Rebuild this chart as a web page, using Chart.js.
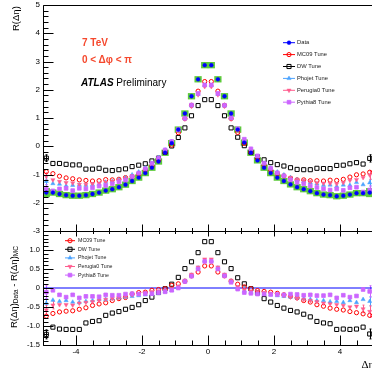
<!DOCTYPE html>
<html><head><meta charset="utf-8">
<script src="https://cdn.jsdelivr.net/npm/chart.js@4.4.1/dist/chart.umd.min.js"></script>
<style>
html,body{margin:0;padding:0;width:372px;height:376px;overflow:hidden;background:#fff;}
#bot{position:absolute;left:0;top:226px;}
#top{position:absolute;left:0;top:0;}
.ann{position:absolute;font-family:'Liberation Sans',Arial,sans-serif;white-space:nowrap;line-height:12px;font-size:10px;}
.red{color:#f5482d;font-weight:bold;}
</style></head><body>
<canvas id="bot" width="380" height="150"></canvas>
<canvas id="top" width="380" height="236"></canvas>
<div class="ann red" style="left:82px;top:37px;">7 TeV</div>
<div class="ann red" style="left:82px;top:54px;">0 &lt; Δφ &lt; π</div>
<div class="ann" style="left:81px;top:77px;color:#000;"><b><i>ATLAS</i></b> Preliminary</div>
<script>
// ---------- data ----------
const etaBins = [-4.9,-4.7,-4.5,-4.3,-4.1,-3.9,-3.7,-3.5,-3.3,-3.1,-2.9,-2.7,-2.5,-2.3,-2.1,-1.9,-1.7,-1.5,-1.3,-1.1,-0.9,-0.7,-0.5,-0.3,-0.1,
                 0.1,0.3,0.5,0.7,0.9,1.1,1.3,1.5,1.7,1.9,2.1,2.3,2.5,2.7,2.9,3.1,3.3,3.5,3.7,3.9,4.1,4.3,4.5,4.7,4.9];

const dataR = [-1.64,-1.64,-1.69,-1.73,-1.75,-1.75,-1.73,-1.69,-1.64,-1.57,-1.52,-1.45,-1.36,-1.23,-1.11,-0.95,-0.76,-0.54,-0.23,0.11,0.59,1.16,1.77,2.37,2.87,
               2.87,2.37,1.77,1.16,0.59,0.13,-0.23,-0.50,-0.76,-0.95,-1.11,-1.23,-1.35,-1.45,-1.52,-1.59,-1.66,-1.71,-1.73,-1.77,-1.75,-1.71,-1.66,-1.66,-1.64];
const dataSyst = [0.15,0.10,0.10,0.10,0.10,0.10,0.10,0.10,0.10,0.10,0.10,0.10,0.10,0.10,0.10,0.10,0.10,0.10,0.10,0.10,0.10,0.10,0.10,0.10,0.10,
                  0.10,0.10,0.10,0.10,0.10,0.10,0.10,0.10,0.10,0.10,0.10,0.10,0.10,0.10,0.10,0.10,0.10,0.10,0.10,0.10,0.10,0.10,0.10,0.10,0.15];
const mc09R = [-0.90,-0.97,-1.06,-1.12,-1.15,-1.19,-1.21,-1.23,-1.22,-1.18,-1.19,-1.17,-1.11,-1.07,-0.99,-0.84,-0.70,-0.50,-0.21,0.04,0.48,0.98,1.45,1.95,2.29,
               2.29,1.95,1.45,0.98,0.49,0.10,-0.21,-0.43,-0.67,-0.84,-0.97,-1.05,-1.13,-1.19,-1.19,-1.22,-1.22,-1.23,-1.20,-1.21,-1.17,-1.09,-1.01,-0.98,-0.92];
const dwR = [-0.42,-0.61,-0.61,-0.64,-0.66,-0.66,-0.81,-0.81,-0.78,-0.85,-0.86,-0.83,-0.80,-0.72,-0.67,-0.62,-0.52,-0.42,-0.21,0.01,0.31,0.65,1.08,1.44,1.65,
             1.65,1.44,1.08,0.65,0.32,0.02,-0.21,-0.37,-0.48,-0.58,-0.65,-0.70,-0.76,-0.82,-0.83,-0.83,-0.78,-0.79,-0.79,-0.68,-0.67,-0.62,-0.58,-0.63,-0.43];
const phojetR = [-1.24,-1.32,-1.34,-1.40,-1.38,-1.37,-1.38,-1.36,-1.34,-1.27,-1.24,-1.19,-1.12,-1.01,-0.91,-0.77,-0.60,-0.40,-0.13,0.17,0.57,0.98,1.43,1.84,2.15,
                 2.15,1.84,1.43,0.98,0.59,0.21,-0.11,-0.36,-0.60,-0.77,-0.91,-1.01,-1.11,-1.19,-1.24,-1.29,-1.33,-1.38,-1.37,-1.42,-1.37,-1.38,-1.28,-1.36,-1.29];
const perugiaR = [-1.06,-1.19,-1.25,-1.29,-1.30,-1.35,-1.35,-1.33,-1.31,-1.27,-1.24,-1.20,-1.14,-1.05,-0.96,-0.83,-0.66,-0.46,-0.17,0.13,0.54,0.96,1.41,1.82,2.11,
                  2.11,1.82,1.41,0.96,0.56,0.18,-0.15,-0.40,-0.64,-0.81,-0.94,-1.03,-1.11,-1.18,-1.22,-1.26,-1.30,-1.31,-1.31,-1.33,-1.29,-1.21,-1.18,-1.11,-1.02];
const pythia8R = [-1.53,-1.58,-1.51,-1.49,-1.57,-1.49,-1.51,-1.47,-1.41,-1.39,-1.33,-1.26,-1.20,-1.08,-0.95,-0.80,-0.61,-0.42,-0.13,0.17,0.59,0.99,1.46,1.87,2.17,
                  2.17,1.87,1.45,1.01,0.62,0.25,-0.09,-0.34,-0.60,-0.78,-0.94,-1.05,-1.19,-1.28,-1.33,-1.41,-1.46,-1.51,-1.55,-1.51,-1.56,-1.47,-1.45,-1.62,-1.55];

// R(data) - R(MC)
const mc09D = [-0.74,-0.67,-0.63,-0.61,-0.60,-0.56,-0.52,-0.46,-0.42,-0.39,-0.33,-0.28,-0.25,-0.16,-0.12,-0.11,-0.06,-0.04,-0.02,0.07,0.11,0.18,0.32,0.42,0.58,
               0.58,0.42,0.32,0.18,0.10,0.03,-0.02,-0.07,-0.09,-0.11,-0.14,-0.18,-0.22,-0.26,-0.33,-0.37,-0.44,-0.48,-0.53,-0.56,-0.58,-0.62,-0.65,-0.68,-0.72];
const dwD = [-1.22,-1.03,-1.08,-1.09,-1.09,-1.09,-0.92,-0.88,-0.86,-0.72,-0.66,-0.62,-0.56,-0.51,-0.44,-0.33,-0.24,-0.12,-0.02,0.10,0.28,0.51,0.69,0.93,1.22,
             1.22,0.93,0.69,0.51,0.27,0.11,-0.02,-0.13,-0.28,-0.37,-0.46,-0.53,-0.59,-0.63,-0.69,-0.76,-0.88,-0.92,-0.94,-1.09,-1.08,-1.09,-1.08,-1.03,-1.21];
const phojetD = [-0.40,-0.32,-0.35,-0.33,-0.37,-0.38,-0.35,-0.33,-0.30,-0.30,-0.28,-0.26,-0.24,-0.22,-0.20,-0.18,-0.16,-0.14,-0.10,-0.06,0.02,0.18,0.34,0.53,0.72,
                 0.72,0.53,0.34,0.18,0.00,-0.08,-0.12,-0.14,-0.16,-0.18,-0.20,-0.22,-0.24,-0.26,-0.28,-0.30,-0.33,-0.33,-0.36,-0.35,-0.38,-0.33,-0.38,-0.30,-0.35];
const perugiaD = [-0.58,-0.45,-0.44,-0.44,-0.45,-0.40,-0.38,-0.36,-0.33,-0.30,-0.28,-0.25,-0.22,-0.18,-0.15,-0.12,-0.10,-0.08,-0.06,-0.02,0.05,0.20,0.36,0.55,0.76,
                  0.76,0.55,0.36,0.20,0.03,-0.05,-0.08,-0.10,-0.12,-0.14,-0.17,-0.20,-0.24,-0.27,-0.30,-0.33,-0.36,-0.40,-0.42,-0.44,-0.46,-0.50,-0.48,-0.55,-0.62];
const pythia8D = [-0.11,-0.06,-0.18,-0.24,-0.18,-0.26,-0.22,-0.22,-0.23,-0.18,-0.19,-0.19,-0.16,-0.15,-0.16,-0.15,-0.15,-0.12,-0.10,-0.06,0.00,0.17,0.31,0.50,0.70,
                  0.70,0.50,0.32,0.15,-0.03,-0.12,-0.14,-0.16,-0.16,-0.17,-0.17,-0.18,-0.16,-0.17,-0.19,-0.18,-0.20,-0.20,-0.18,-0.26,-0.19,-0.24,-0.21,-0.04,-0.09];

// statistical error (half length) of the MC tunes
const mc09Err = [0.05,0.03,0.02,0.02,0.02,0.02,0.02,0.02,0.02,0.02,0.02,0.02,0.02,0.02,0.02,0.02,0.02,0.02,0.02,0.02,0.02,0.02,0.02,0.03,0.03,
                 0.03,0.03,0.02,0.02,0.02,0.02,0.02,0.02,0.02,0.02,0.02,0.02,0.02,0.02,0.02,0.02,0.02,0.02,0.02,0.02,0.02,0.02,0.02,0.03,0.05];
const dwErr = [0.12,0.05,0.03,0.02,0.02,0.02,0.02,0.02,0.02,0.02,0.02,0.02,0.02,0.02,0.02,0.02,0.02,0.02,0.02,0.02,0.02,0.02,0.02,0.03,0.03,
               0.03,0.03,0.02,0.02,0.02,0.02,0.02,0.02,0.02,0.02,0.02,0.02,0.02,0.02,0.02,0.02,0.02,0.02,0.02,0.02,0.02,0.02,0.03,0.05,0.13];
const phojetErr = [0.12,0.08,0.05,0.04,0.04,0.04,0.03,0.03,0.03,0.03,0.03,0.03,0.03,0.03,0.03,0.03,0.03,0.03,0.03,0.03,0.03,0.03,0.04,0.04,0.05,
                   0.05,0.04,0.04,0.03,0.03,0.03,0.03,0.03,0.03,0.03,0.03,0.03,0.03,0.03,0.03,0.03,0.03,0.03,0.04,0.04,0.04,0.04,0.05,0.08,0.12];
const perugiaErr = [0.12,0.10,0.06,0.04,0.04,0.04,0.03,0.03,0.03,0.03,0.03,0.03,0.03,0.03,0.03,0.03,0.03,0.03,0.03,0.03,0.03,0.04,0.04,0.05,0.06,
                    0.06,0.05,0.04,0.04,0.03,0.03,0.03,0.03,0.03,0.03,0.03,0.03,0.03,0.03,0.03,0.03,0.03,0.03,0.04,0.04,0.04,0.05,0.06,0.10,0.15];
const pythia8Err = [0.17,0.08,0.05,0.04,0.04,0.04,0.03,0.03,0.03,0.03,0.03,0.03,0.03,0.03,0.03,0.03,0.03,0.03,0.03,0.03,0.03,0.04,0.04,0.05,0.05,
                    0.05,0.05,0.04,0.04,0.03,0.03,0.03,0.03,0.03,0.03,0.03,0.03,0.03,0.03,0.03,0.03,0.03,0.03,0.04,0.04,0.04,0.04,0.05,0.07,0.15];

const xTickLabels = [-4,-2,0,2,4];
const yTopTickLabels = [-3,-2,-1,0,1,2,3,4,5];
const yBotTickLabels = [-1.5,-1,-0.5,0,0.5,1];

// ---------- helpers ----------
const FONT = "'Liberation Sans', Arial, sans-serif";
const pts = arr => etaBins.map((x, i) => ({x, y: arr[i]}));
function ticksList(min, max, majorStep, minorStep, majLen, minLen) {
  const out = [];
  const n = Math.round((max - min) / minorStep);
  for (let k = 0; k <= n; k++) {
    const v = +(min + k * minorStep).toFixed(6);
    const isMaj = Math.abs(v / majorStep - Math.round(v / majorStep)) < 1e-6;
    out.push({v, len: isMaj ? majLen : minLen});
  }
  return out;
}

const frameTicks = {
  id: 'frameTicks',
  afterDatasetsDraw(chart, args, o) {
    const {ctx, chartArea: a, scales} = chart;
    ctx.save();
    ctx.strokeStyle = '#000';
    ctx.lineWidth = 1;
    const L = Math.round(a.left) + 0.5, T = Math.round(a.top) + 0.5, B = Math.round(a.bottom) + 0.5, R = Math.round(a.right) + 0.5;
    ctx.beginPath();
    ctx.moveTo(R, T); ctx.lineTo(L, T); ctx.lineTo(L, B); ctx.lineTo(R, B);
    ctx.stroke();
    ctx.beginPath();
    o.y.forEach(t => { const p = Math.round(scales.y.getPixelForValue(t.v)) + 0.5; ctx.moveTo(L, p); ctx.lineTo(L + t.len, p); });
    (o.xb || []).forEach(t => { const p = Math.round(scales.x.getPixelForValue(t.v)) + 0.5; ctx.moveTo(p, B); ctx.lineTo(p, B - t.len); });
    (o.xt || []).forEach(t => { const p = Math.round(scales.x.getPixelForValue(t.v)) + 0.5; ctx.moveTo(p, T); ctx.lineTo(p, T + t.len); });
    ctx.stroke();
    ctx.restore();
  }
};

// vertical error bars, drawn beneath the markers through the chart's own scales;
// bars shorter than the marker itself stay hidden, as in the original
const errorBars = {
  id: 'errorBars',
  beforeDatasetsDraw(chart) {
    const {ctx, chartArea: a, scales} = chart;
    ctx.save();
    ctx.beginPath(); ctx.rect(a.left, a.top, a.right - a.left, a.bottom - a.top); ctx.clip();
    chart.data.datasets.forEach(ds => {
      if (!ds.errors) return;
      ctx.strokeStyle = ds.borderColor; ctx.lineWidth = 1;
      ctx.beginPath();
      ds.data.forEach((p, i) => {
        const e = ds.errors[i];
        const x = Math.round(scales.x.getPixelForValue(p.x)) + 0.5;
        const y1 = scales.y.getPixelForValue(p.y + e), y2 = scales.y.getPixelForValue(p.y - e);
        if ((y2 - y1) / 2 <= 3.2) return;
        ctx.moveTo(x, y1); ctx.lineTo(x, y2);
        ctx.moveTo(x - 1, y1); ctx.lineTo(x + 1, y1);
        ctx.moveTo(x - 1, y2); ctx.lineTo(x + 1, y2);
      });
      ctx.stroke();
    });
    ctx.restore();
  }
};

const legendBox = {
  id: 'legendBox',
  afterDraw(chart, args, o) {
    const ctx = chart.ctx;
    o.items.forEach((idx, k) => {
      const ds = chart.data.datasets[idx];
      const y = o.y0 + k * o.dy;
      ctx.save();
      ctx.strokeStyle = ds.borderColor; ctx.lineWidth = 1;
      ctx.beginPath(); ctx.moveTo(o.x - o.half, y); ctx.lineTo(o.x + o.half, y); ctx.stroke();
      ctx.fillStyle = ds.backgroundColor; ctx.strokeStyle = ds.borderColor; ctx.lineWidth = ds.borderWidth;
      Chart.helpers.drawPoint(ctx, {pointStyle: ds.pointStyle, rotation: ds.rotation || 0, radius: ds.pointRadius, borderWidth: ds.borderWidth}, o.x, y);
      ctx.fillStyle = '#222'; ctx.font = o.font; ctx.textBaseline = 'middle'; ctx.textAlign = 'left';
      ctx.fillText(ds.label, o.tx, y);
      ctx.restore();
    });
  }
};

const titles = {
  id: 'titles',
  afterDraw(chart, args, o) {
    const ctx = chart.ctx;
    (o.items || []).forEach(it => {
      ctx.save();
      ctx.translate(it.x, it.y);
      if (it.rot) ctx.rotate(it.rot);
      ctx.fillStyle = '#000';
      ctx.textBaseline = 'middle';
      ctx.textAlign = 'left';
      let cx = 0;
      it.parts.forEach(p => {
        ctx.font = p.font;
        ctx.fillText(p.t, cx, p.dy || 0);
        cx += ctx.measureText(p.t).width;
      });
      ctx.restore();
    });
  }
};

function ds(label, arr, style, errs) {
  return Object.assign({label, data: pts(arr), showLine: false, errors: errs}, style);
}
const styles = {
  data:    {pointStyle: 'circle', pointRadius: 1.9, backgroundColor: '#0000ff', borderColor: '#0000ff', borderWidth: 0.5},
  mc09:    {pointStyle: 'circle', pointRadius: 2.1, backgroundColor: 'rgba(0,0,0,0)', borderColor: '#ff0000', borderWidth: 1},
  dw:      {pointStyle: 'rect', pointRadius: 2.9, backgroundColor: 'rgba(0,0,0,0)', borderColor: '#000000', borderWidth: 1},
  phojet:  {pointStyle: 'triangle', pointRadius: 2.4, backgroundColor: '#4aa3ff', borderColor: '#4aa3ff', borderWidth: 0.5},
  perugia: {pointStyle: 'triangle', rotation: 180, pointRadius: 2.4, backgroundColor: '#ff5c8e', borderColor: '#ff5c8e', borderWidth: 0.5},
  pythia8: {pointStyle: 'rect', pointRadius: 2.6, backgroundColor: '#cc66ff', borderColor: '#cc66ff', borderWidth: 0.8}
};
const common = {
  responsive: false, animation: false, events: [],
  plugins: {legend: {display: false}, tooltip: {enabled: false}}
};

// ---------- top panel ----------
new Chart(document.getElementById('top'), {
  type: 'scatter',
  data: {datasets: [
    ds('Data', dataR, Object.assign({order: 0}, styles.data)),
    ds('MC09 Tune', mc09R, Object.assign({order: 4}, styles.mc09), mc09Err),
    ds('DW Tune', dwR, Object.assign({order: 5}, styles.dw), dwErr),
    ds('Phojet Tune', phojetR, Object.assign({order: 3}, styles.phojet), phojetErr),
    ds('Perugia0 Tune', perugiaR, Object.assign({order: 2}, styles.perugia), perugiaErr),
    ds('Pythia8 Tune', pythia8R, Object.assign({order: 1}, styles.pythia8), pythia8Err),
    {type: 'bar', label: 'syst', order: 10, backgroundColor: '#5dcb3a', borderWidth: 0,
     barPercentage: 1, categoryPercentage: 1,
     data: etaBins.map((x, i) => ({x, y: [dataR[i] - dataSyst[i], dataR[i] + dataSyst[i]]}))}
  ]},
  options: Object.assign({}, common, {
    layout: {padding: {left: 0, top: 5, right: 7, bottom: 5}},
    scales: {
      x: {type: 'linear', min: -5, max: 5, offset: false, display: false, grid: {offset: false}},
      y: {type: 'linear', min: -3, max: 5, position: 'left',
          grid: {display: false, drawTicks: false}, border: {display: false},
          afterBuildTicks: s => { s.ticks = yTopTickLabels.map(v => ({value: v})); },
          ticks: {padding: 3, color: '#000', font: {family: FONT, size: 8}},
          afterFit: s => { s.width = 43; s.paddingTop = 0; s.paddingBottom = 0; }}
    },
    plugins: Object.assign({}, common.plugins, {
      frameTicks: {y: ticksList(-3, 5, 1, 0.2, 10, 5), xb: ticksList(-5, 5, 2, 0.5, 7, 3.5)},
      legendBox: {items: [0, 1, 2, 3, 4, 5], x: 289, half: 6, tx: 297, y0: 42.7, dy: 11.9, font: '5.8px ' + FONT},
      titles: {items: [{x: 16.5, y: 31, rot: -Math.PI / 2, parts: [{t: 'R(Δη)', font: '9.5px ' + FONT}]}]}
    })
  }),
  plugins: [errorBars, frameTicks, legendBox, titles]
});

// ---------- bottom panel ----------
new Chart(document.getElementById('bot'), {
  type: 'scatter',
  data: {datasets: [
    ds('MC09 Tune', mc09D, Object.assign({order: 4}, styles.mc09), mc09Err),
    ds('DW Tune', dwD, Object.assign({order: 5}, styles.dw), dwErr),
    ds('Phojet Tune', phojetD, Object.assign({order: 3}, styles.phojet), phojetErr),
    ds('Perugia0 Tune', perugiaD, Object.assign({order: 2}, styles.perugia), perugiaErr),
    ds('Pythia8 Tune', pythia8D, Object.assign({order: 1}, styles.pythia8), pythia8Err),
    {label: 'zero', data: [{x: -5, y: 0}, {x: 5, y: 0}], showLine: true, pointRadius: 0, borderColor: '#0000ff', borderWidth: 1, order: 9}
  ]},
  options: Object.assign({}, common, {
    layout: {padding: {left: 0, top: 5, right: 7, bottom: 0}},
    scales: {
      x: {type: 'linear', min: -5, max: 5, offset: false,
          grid: {display: false, drawTicks: false}, border: {display: false},
          afterBuildTicks: s => { s.ticks = xTickLabels.map(v => ({value: v})); },
          ticks: {padding: 2, maxRotation: 0, autoSkip: false, color: '#000', font: {family: FONT, size: 8}},
          afterFit: s => { s.height = 31; s.paddingLeft = 0; s.paddingRight = 0; }},
      y: {type: 'linear', min: -1.5, max: 1.5, position: 'left',
          grid: {display: false, drawTicks: false}, border: {display: false},
          afterBuildTicks: s => { s.ticks = yBotTickLabels.map(v => ({value: v})); },
          ticks: {padding: 3, color: '#000', font: {family: FONT, size: 7.5}},
          afterFit: s => { s.width = 43; s.paddingTop = 0; s.paddingBottom = 0; }}
    },
    plugins: Object.assign({}, common.plugins, {
      frameTicks: {y: ticksList(-1.5, 1.5, 0.5, 0.1, 10, 5), xb: ticksList(-5, 5, 2, 0.5, 10, 5), xt: ticksList(-5, 5, 2, 0.5, 5, 2.5)},
      legendBox: {items: [0, 1, 2, 3, 4], x: 70, half: 5, tx: 78, y0: 14.7, dy: 8.6, font: '5.3px ' + FONT},
      titles: {items: [
        {x: 14, y: 102, rot: -Math.PI / 2, parts: [
          {t: 'R(Δη)', font: '9.5px ' + FONT},
          {t: 'Data', font: '6.5px ' + FONT, dy: 2.5},
          {t: ' - R(Δη)', font: '9.5px ' + FONT},
          {t: 'MC', font: '6.5px ' + FONT, dy: 2.5}
        ]},
        {x: 361.5, y: 139, parts: [{t: 'Δη', font: '11px "Liberation Serif", serif'}]}
      ]}
    })
  }),
  plugins: [errorBars, frameTicks, legendBox, titles]
});
</script>
</body></html>
